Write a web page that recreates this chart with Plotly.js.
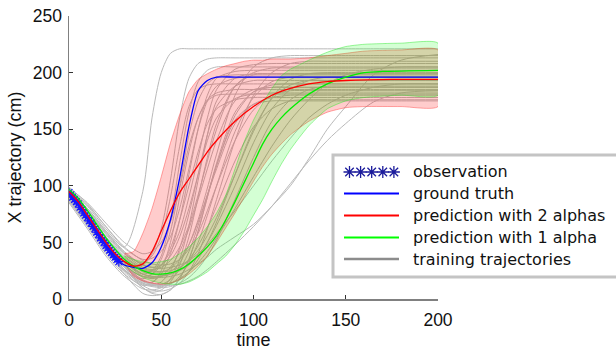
<!DOCTYPE html>
<html>
<head>
<meta charset="utf-8">
<script src="https://cdn.plot.ly/plotly-3.0.1.min.js"></script>
<style>html,body{margin:0;padding:0;background:#fff;}#chart{width:616px;height:352px;}</style>
</head>
<body>
<div id="chart"></div>
<script>
// ---------- data ----------
const trainTime = [0,10,20,30,40,45,50,55,60,65,70,75,80,90,100,110,120,130,140,150,165,180,200];
const tr01 = [97,82,62,46,95,160,200,217,221,221,221,221,221,221,221,221,221,221,221,221,221,221,221];
const tr02 = [90,70,48,32,30,40,62,105,160,195,208,212,213,213,213,213,213,213,213,213,213,213,213];
const tr03 = [93,75,52,33,22,25,38,70,120,165,192,202,205,205,205,205,205,205,205,205,205,205,205];
const tr04 = [88,66,42,25,18,22,35,60,100,145,175,190,196,198,198,198,198,198,198,198,198,198,198];
const tr05 = [95,78,58,40,32,38,55,90,135,170,185,189,190,190,190,190,190,190,190,190,190,190,190];
const tr06 = [91,72,50,30,15,15,22,40,70,110,150,180,195,201,202,202,202,202,202,202,202,202,202];
const tr07 = [86,64,40,22,12,14,25,50,90,130,160,176,182,185,185,185,185,185,185,185,185,185,185];
const tr08 = [99,84,64,45,35,36,42,55,80,115,150,175,188,195,196,196,196,196,196,196,196,196,196];
const tr09 = [92,72,50,30,20,22,30,45,70,100,130,155,168,176,178,178,178,178,178,178,178,178,178];
const tr10 = [94,76,55,35,25,25,30,42,60,90,125,160,185,203,207,208,208,208,208,208,208,208,208];
const tr11 = [89,68,45,26,14,12,15,25,45,75,110,145,170,188,193,193,193,193,193,193,193,193,193];
const tr12 = [96,80,60,42,30,28,30,38,55,80,110,140,160,177,181,182,182,182,182,182,182,182,182];
const tr13 = [90,70,47,28,10,6,8,15,30,55,90,125,155,188,198,199,199,199,199,199,199,199,199];
const tr14 = [93,74,52,33,20,18,20,28,42,62,88,115,140,175,185,187,187,187,187,187,187,187,187];
const tr15 = [87,65,42,24,10,5,4,8,18,35,60,90,118,158,172,175,175,175,175,175,175,175,175];
const tr16 = [95,79,59,40,28,26,28,34,46,65,92,122,150,188,200,204,204,204,204,204,204,204,204];
const tr17 = [91,71,48,28,16,13,13,17,26,42,65,92,118,162,183,189,190,190,190,190,190,190,190];
const tr18 = [88,67,45,28,20,19,20,24,32,48,70,98,128,180,205,213,215,215,215,215,215,215,215];
const tr19 = [94,76,55,37,26,24,24,27,35,48,68,92,115,155,172,178,180,180,180,180,180,180,180];
const tr20 = [92,73,51,31,16,12,11,13,20,32,50,74,100,148,178,192,196,196,196,196,196,196,196];
const tr21 = [97,83,64,46,34,31,30,31,35,44,58,78,100,140,167,180,184,184,184,184,184,184,184];
const tr22 = [89,69,46,26,12,8,7,9,14,24,40,62,88,140,180,200,208,210,210,210,210,210,210];
const tr23 = [93,74,53,34,22,20,20,22,27,35,47,63,82,122,152,168,175,176,176,176,176,176,176];
const tr24 = [90,70,48,29,17,14,13,14,17,24,35,50,68,110,150,177,189,193,193,193,193,193,193];
const tr25 = [95,78,57,38,27,25,24,25,28,34,43,56,72,110,148,178,194,199,200,200,200,200,200];
const tr26 = [88,67,44,25,13,11,10,11,14,19,27,38,52,88,125,157,176,185,188,188,188,188,188];
const tr27 = [92,73,52,33,22,20,19,20,22,26,31,37,44,55,66,82,100,124,150,170,198,211,216];
const tr28 = [96,80,60,41,30,28,27,28,30,34,40,48,58,78,100,122,142,160,172,180,187,190,190];
const tr29 = [90,70,48,28,16,13,12,12,13,16,20,26,33,48,64,82,102,122,140,155,174,182,184];
const tr30 = [94,76,55,36,24,22,21,22,25,30,38,50,65,100,138,168,185,193,196,196,196,196,196];
const tr31 = [91,70,45,22,5,3,4,8,18,35,60,90,120,165,183,187,187,187,187,187,187,187,187];
const tr32 = [98,85,67,50,40,42,50,68,98,135,160,175,180,181,181,181,181,181,181,181,181,181,181];
const tr33 = [85,62,38,20,9,8,10,18,35,65,105,145,175,195,199,199,199,199,199,199,199,199,199];
const tr34 = [89,68,45,26,14,12,12,14,18,24,32,42,54,80,108,135,158,176,190,198,203,205,205];
const training = [tr01,tr02,tr03,tr04,tr05,tr06,tr07,tr08,tr09,tr10,tr11,tr12,tr13,tr14,tr15,tr16,tr17,
                  tr18,tr19,tr20,tr21,tr22,tr23,tr24,tr25,tr26,tr27,tr28,tr29,tr30,tr31,tr32,tr33,tr34];

const obsTime = [0,1,2,3,4,5,6,7,8,9,10,11,12,13,14,15,16,17,18,19,20,21,22,23,24,25,26,27];
const obsX    = [94,92,90,88,86,84,81,79,76,74,72,69,67,64,62,59,57,54,52,50,47,45,43,41,39,37,35,33];

const truthTime = [0,5,10,15,20,25,30,35,40,45,50,55,60,65,70,75,80,90,100,200];
const truthX    = [93,83,71,59,47,37,30,28,27,32,46,70,107,152,184,193,196,196,196,196];

const pred2Time = [0,5,10,15,20,25,30,35,40,45,50,55,60,65,70,75,80,90,100,110,120,130,140,150,175,200];
const pred2X    = [95,86,74,62,50,40,33,29,31,42,60,78,94,106,118,130,140,157,170,180,186,190,192,193,194,194];

const pred1Time = [0,5,10,15,20,25,30,35,40,45,50,55,60,65,70,75,80,85,90,95,100,105,110,115,120,125,130,140,150,160,170,200];
const pred1X    = [97,89,78,66,54,44,35,29,25,22.5,22,23,26,31,38,46,56,70,86,103,120,137,150,160,168,175,181,190,196,200,201,202];

const band2Time  = [30,35,40,45,50,55,60,65,70,75,80,85,90,95,100,105,110,115,120,130,140,150,160,180,200];
const band2Upper = [40,42,58,80,108,138,163,183,194,199,203,206,208,210,211,211,212,212,212,213,215,217,219,220,220];
const band2Lower = [32,20,16,14,13,14,17,22,29,38,50,63,76,90,104,117,128,137,145,157,165,169,170,170,170];

const band1Time  = [30,35,40,45,50,55,60,65,70,75,80,85,90,95,100,105,110,115,120,125,130,140,150,160,180,200];
const band1Upper = [38,35,33,32,33,35,40,46,54,64,76,92,115,139,158,173,186,197,203,207,211,218,223,225,226,226];
const band1Lower = [30,24,19,16,14,13,13,15,19,24,31,38,48,60,74,88,104,119,132,143,153,168,175,178,180,180];

const xTicks = [0,50,100,150,200];
const yTicks = [0,50,100,150,200,250];
const legendLabels = ['observation','ground truth','prediction with 2 alphas','prediction with 1 alpha','training trajectories'];
const legendColors = [null,'#0000ff','#ff0000','#00ff00','#8c8c8c'];

// ---------- geometry helpers (plot area 69..438 x 16..299 px) ----------
const L = 69, R = 178, T = 16, B = 53, W = 616, H = 352;
const pw = W - L - R, ph = H - T - B;
const px = v => (v - L) / pw;
const py = v => (H - B - v) / ph;

const traces = [];
training.forEach(arr => traces.push({
  x: trainTime, y: arr, type: 'scatter', mode: 'lines',
  line: {color: 'rgb(186,186,186)', width: 1, shape: 'spline', smoothing: 0.8},
  hoverinfo: 'skip', showlegend: false
}));
function band(t, up, lo, fill, edge) {
  return {
    x: t.concat(t.slice().reverse()), y: up.concat(lo.slice().reverse()),
    type: 'scatter', mode: 'lines', fill: 'toself', fillcolor: fill,
    line: {color: edge, width: 1, shape: 'spline', smoothing: 0.6}, showlegend: false, hoverinfo: 'skip'
  };
}
traces.push(band(band2Time, band2Upper, band2Lower, 'rgba(255,0,0,0.2)', 'rgba(255,60,60,0.45)'));
traces.push(band(band1Time, band1Upper, band1Lower, 'rgba(0,255,0,0.17)', 'rgba(40,230,40,0.45)'));
traces.push({x: truthTime, y: truthX, type: 'scatter', mode: 'lines',
  line: {color: '#0000ff', width: 1.3, shape: 'spline', smoothing: 0.7}, showlegend: false});
traces.push({x: obsTime, y: obsX, type: 'scatter', mode: 'markers',
  marker: {symbol: 'asterisk-open', size: 8, color: '#1515ff', line: {color: '#1515ff', width: 1.1}}, showlegend: false});
traces.push({x: pred1Time, y: pred1X, type: 'scatter', mode: 'lines',
  line: {color: '#00ee00', width: 1.3, shape: 'spline', smoothing: 0.7}, showlegend: false});
traces.push({x: pred2Time, y: pred2X, type: 'scatter', mode: 'lines',
  line: {color: '#ff0000', width: 1.3, shape: 'spline', smoothing: 0.7}, showlegend: false});

// legend star sample on an invisible overlay axis (paper-like 0..1)
const starX = [0,1,2,3,4].map(k => px(349.5 + 11.1 * k));
traces.push({x: starX, y: starX.map(() => py(172)), xaxis: 'x2', yaxis: 'y2', type: 'scatter', mode: 'markers',
  marker: {symbol: 'asterisk-open', size: 10, color: '#1c1c9c', line: {color: '#1c1c9c', width: 1.3}},
  showlegend: false, hoverinfo: 'skip', cliponaxis: false});

const rowsY = [172, 193.5, 215.5, 237.5, 259];
const shapes = [{type: 'rect', xref: 'paper', yref: 'paper', x0: px(333), x1: px(630), y0: py(277), y1: py(155),
  line: {color: '#c4c4c4', width: 3}, fillcolor: '#ffffff', layer: 'below'}];
legendColors.forEach((c, i) => {
  if (!c) return;
  shapes.push({type: 'line', xref: 'paper', yref: 'paper', x0: px(344), x1: px(399), y0: py(rowsY[i]), y1: py(rowsY[i]),
    line: {color: c, width: i === 4 ? 2.5 : 2}});
});
const annotations = legendLabels.map((t, i) => ({
  text: t, xref: 'paper', yref: 'paper', x: px(411), y: py(rowsY[i]), xanchor: 'left', yanchor: 'middle',
  showarrow: false, font: {family: 'DejaVu Sans', size: 16, color: '#111'}
}));

const axisFont = {family: 'Liberation Sans, Arial, sans-serif', size: 17.5, color: '#111'};
const layout = {
  width: W, height: H, margin: {l: L, r: R, t: T, b: B},
  paper_bgcolor: '#fff', plot_bgcolor: '#fff', showlegend: false,
  xaxis: {range: [0, 200], tickvals: xTicks, ticktext: xTicks.map(String), ticks: 'inside', ticklen: 4, tickcolor: '#333',
    showline: true, linecolor: '#808080', linewidth: 1.5, showgrid: false, zeroline: false, tickfont: axisFont,
    ticklabelstandoff: 4,
    title: {text: 'time', font: {family: 'Liberation Sans, Arial, sans-serif', size: 18, color: '#111'}, standoff: 5}},
  yaxis: {range: [0, 250], tickvals: yTicks, ticktext: yTicks.map(String), ticks: 'inside', ticklen: 4, tickcolor: '#333',
    showline: true, linecolor: '#808080', linewidth: 1.5, showgrid: false, zeroline: false, tickfont: axisFont,
    ticklabelstandoff: 2,
    title: {text: 'X trajectory (cm)', font: {family: 'Liberation Sans, Arial, sans-serif', size: 18, color: '#111'}, standoff: 6}},
  xaxis2: {overlaying: 'x', range: [0, 1], visible: false},
  yaxis2: {overlaying: 'y', range: [0, 1], visible: false},
  shapes: shapes, annotations: annotations
};
Plotly.newPlot('chart', traces, layout, {staticPlot: true, displayModeBar: false});
</script>
</body>
</html>
